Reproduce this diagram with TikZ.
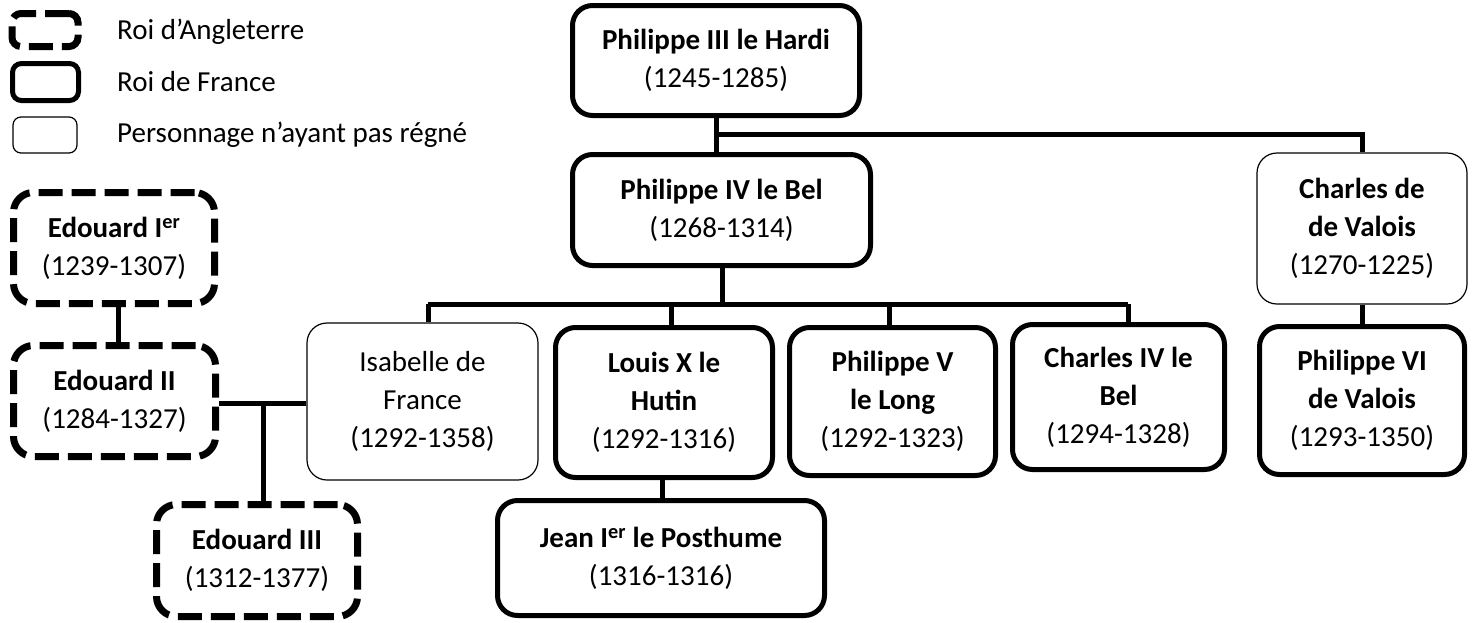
\documentclass[tikz,border=0pt]{standalone}
\usepackage{fontspec}
\setmainfont{Carlito}
\begin{document}
\begin{tikzpicture}[x=1pt,y=-1pt,
  every node/.style={inner sep=0pt, align=center, font=\fontsize{29}{38}\selectfont},
  france/.style={draw=black, line width=5pt, rounded corners=20pt},
  angle/.style={draw=black, line width=7pt, rounded corners=20pt, dash pattern=on 24pt off 9pt},
  other/.style={draw=black, line width=1.2pt, rounded corners=20pt},
  conn/.style={draw=black, line width=5pt, line join=miter},
  legtext/.style={anchor=west, font=\fontsize{29}{38}\selectfont}]
\useasboundingbox (0,0) rectangle (1476,622);
% legend
\node[angle, rounded corners=9pt, minimum width=66pt, minimum height=33pt] (la) at (45,30) {};
\node[france, rounded corners=9pt, minimum width=66pt, minimum height=37pt] (lf) at (45.5,82) {};
\node[other, rounded corners=8pt, minimum width=64pt, minimum height=36pt] (lo) at (45,135) {};
\node[legtext] (ta) at (117,32) {Roi d’Angleterre};
\node[legtext] (tf) at (117,82) {Roi de France};
\node[legtext] (to) at (117,135) {Personnage n’ayant pas régné};
% boxes
\node[france, minimum width=287pt, minimum height=110pt] (p3) at (716,60.5) {\textbf{Philippe III le Hardi}\\(1245-1285)};
\node[france, minimum width=298pt, minimum height=111pt] (p4) at (721.5,210) {\textbf{Philippe IV le Bel}\\(1268-1314)};
\node[other, minimum width=210pt, minimum height=151pt] (cdv) at (1362,228.5) {\textbf{Charles de}\\\textbf{de Valois}\\(1270-1225)};
\node[other, minimum width=231pt, minimum height=157pt] (isa) at (422.5,401.5) {Isabelle de\\France\\(1292-1358)};
\node[france, minimum width=217pt, minimum height=150pt] (lx) at (664,402.5) {\textbf{Louis X le}\\\textbf{Hutin}\\(1292-1316)};
\node[france, minimum width=206pt, minimum height=148pt] (pv) at (892.5,401.5) {\textbf{Philippe V}\\\textbf{le Long}\\(1292-1323)};
\node[france, minimum width=212pt, minimum height=145pt] (c4) at (1118.5,397) {\textbf{Charles IV le}\\\textbf{Bel}\\(1294-1328)};
\node[france, minimum width=205pt, minimum height=148pt] (p6) at (1362,400.5) {\textbf{Philippe VI}\\\textbf{de Valois}\\(1293-1350)};
\node[france, minimum width=327pt, minimum height=115pt] (jean) at (661,558) {\textbf{Jean I\textsuperscript{er} le Posthume}\\(1316-1316)};
\node[angle, minimum width=201pt, minimum height=111pt] (e1) at (114,248) {\textbf{Edouard I\textsuperscript{er}}\\(1239-1307)};
\node[angle, minimum width=202pt, minimum height=111pt] (e2) at (114.5,401) {\textbf{Edouard II}\\(1284-1327)};
\node[angle, minimum width=201pt, minimum height=112pt] (e3) at (257,560.5) {\textbf{Edouard III}\\(1312-1377)};
% junctions
\coordinate (j1) at (716,134);
\coordinate (barL) at (428,304);
\coordinate (barM) at (722,304);
\coordinate (barR) at (1128,304);
\coordinate (ej) at (263,403);
% connectors
\draw[conn] (p3.south) -- (p3.south |- p4.north);
\draw[conn] (j1) -| (cdv.north);
\draw[conn] (p4.south -| barM) -- (barM);
\draw[conn] (barL) -- (barR);
\draw[conn] (barL) -- (barL |- isa.north);
\draw[conn] ([xshift=7pt]lx.north) -- ([xshift=7pt]lx.north |- barL);
\draw[conn] ([xshift=-3.5pt]pv.north) -- ([xshift=-3.5pt]pv.north |- barL);
\draw[conn] (barR) -- (barR |- c4.north);
\draw[conn] (cdv.south) -- (p6.north);
\draw[conn] ([xshift=-2pt]lx.south) -- ([xshift=-2pt]lx.south |- jean.north);
\draw[conn] ([xshift=4pt]e1.south) -- ([xshift=4pt]e1.south |- e2.north);
\draw[conn] (e2.east |- ej) -- (isa.west |- ej);
\draw[conn] (ej) -- (ej |- e3.north);
\end{tikzpicture}
\end{document}
